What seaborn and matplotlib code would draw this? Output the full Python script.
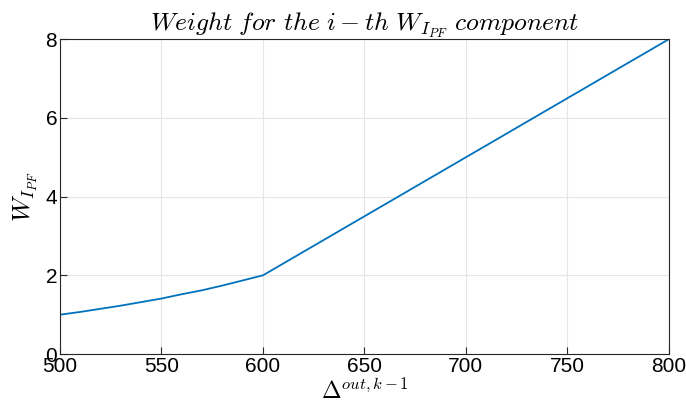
import matplotlib
matplotlib.use("Agg")
import matplotlib.pyplot as plt
import numpy as np
import pandas as pd
import seaborn as sns

# values
delta = [500, 510, 520, 530, 540, 550, 560, 570, 580, 590, 600, 800]
weight = [1.00, 1.07, 1.15, 1.23, 1.32, 1.41, 1.52, 1.62, 1.74, 1.87, 2.00, 8.00]
x_ticks = [500, 550, 600, 650, 700, 750, 800]
y_ticks = [0, 2, 4, 6, 8]

df = pd.DataFrame({"delta": delta, "weight": weight})

sns.set_style("whitegrid")
plt.rcParams["font.family"] = ["Liberation Sans", "DejaVu Sans"]
plt.rcParams["mathtext.fontset"] = "cm"

fig = plt.figure(figsize=(6.86, 4.17), dpi=100)
ax = fig.add_axes([0.0875, 0.151, 0.8875, 0.755])
sns.lineplot(data=df, x="delta", y="weight", color="#0072BD", linewidth=1.3, ax=ax)

ax.set_xlim(500, 800)
ax.set_ylim(0, 8)
ax.set_xticks(x_ticks)
ax.set_yticks(y_ticks)
ax.grid(True, color="#e6e6e6", linewidth=0.8)
for s in ax.spines.values():
    s.set_visible(True)
    s.set_color("#262626")
    s.set_linewidth(0.8)
ax.tick_params(direction="in", length=5, width=0.8, color="#262626",
               labelsize=15, labelcolor="black", pad=2,
               top=False, right=False, bottom=True, left=True)
ax.set_xlabel(r"$\Delta^{out,k-1}$", fontsize=17, labelpad=2, color="black")
ax.set_ylabel(r"$W_{I_{PF}}$", fontsize=18, labelpad=4, color="black")
ax.set_title(r"$Weight\ for\ the\ i-th\ W_{I_{PF}}\ component$",
             fontsize=18.5, pad=6, color="black")

fig.savefig("out.png", dpi=100)
plt.close(fig)
